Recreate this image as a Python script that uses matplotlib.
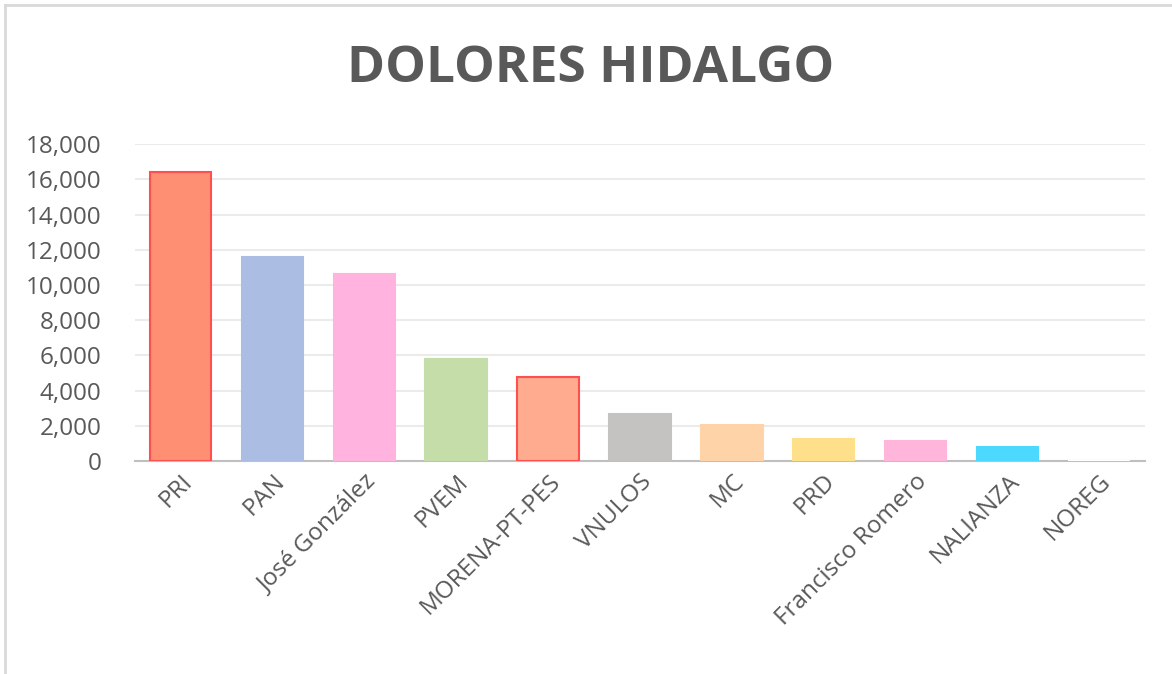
import matplotlib.pyplot as plt
from matplotlib.lines import Line2D
from matplotlib.ticker import FuncFormatter

categories = ['PRI', 'PAN', 'José González', 'PVEM', 'MORENA-PT-PES', 'VNULOS',
              'MC', 'PRD', 'Francisco Romero', 'NALIANZA', 'NOREG']
votes = [16400, 11600, 10600, 5800, 4770, 2670, 2050, 1230, 1140, 780, 20]
colors = ['#FF8F73', '#ABBDE3', '#FFB3DE', '#C5DDA8', '#FFAB90', '#C4C3C1',
          '#FFD3A8', '#FFE08A', '#FFB6DA', '#4DD8FF', '#FFFFFF']
edges = ['#FF5050', '#ABBDE3', '#FFB3DE', '#C5DDA8', '#FF5050', '#C4C3C1',
         '#FFD3A8', '#FFE08A', '#FFB6DA', '#4DD8FF', '#FFFFFF']
yticks = list(range(0, 18001, 2000))

GRAY = '#595959'
plt.rcParams['font.family'] = ['Open Sans', 'DejaVu Sans']

fig = plt.figure(figsize=(11.72, 6.74), dpi=100)
ax = fig.add_axes([0.115, 0.316, 0.862, 0.470])

x = range(len(categories))
ax.bar(x, votes, width=0.67, color=colors, edgecolor=edges, linewidth=1.5, zorder=3)

ax.set_ylim(0, 18000)
ax.set_xlim(-0.5, len(categories) - 0.5)
ax.set_yticks(yticks)
ax.yaxis.set_major_formatter(FuncFormatter(lambda v, p: f'{int(v):,}'))
ax.grid(axis='y', color='#EBEBEB', linewidth=1.5, zorder=0)
for s in ['top', 'right', 'left']:
    ax.spines[s].set_visible(False)
ax.spines['bottom'].set_color('#BFBFBF')
ax.spines['bottom'].set_linewidth(1.5)
ax.tick_params(axis='both', length=0, labelcolor=GRAY, labelsize=17.5)
ax.tick_params(axis='y', pad=24)
ax.set_xticks(list(x))
ax.set_xticklabels(categories, rotation=45, ha='right', rotation_mode='anchor')
ax.tick_params(axis='x', pad=6)

fig.text(0.504, 0.897, 'DOLORES HIDALGO', ha='center', va='center',
         fontsize=37, fontweight='bold', color=GRAY)

# chart frame (left and top edges)
fig.add_artist(Line2D([5/1172, 5/1172], [0, 1 - 5/674], color='#D9D9D9', lw=2))
fig.add_artist(Line2D([5/1172, 1], [1 - 5/674, 1 - 5/674], color='#D9D9D9', lw=2))

fig.savefig('out.png', dpi=100)
